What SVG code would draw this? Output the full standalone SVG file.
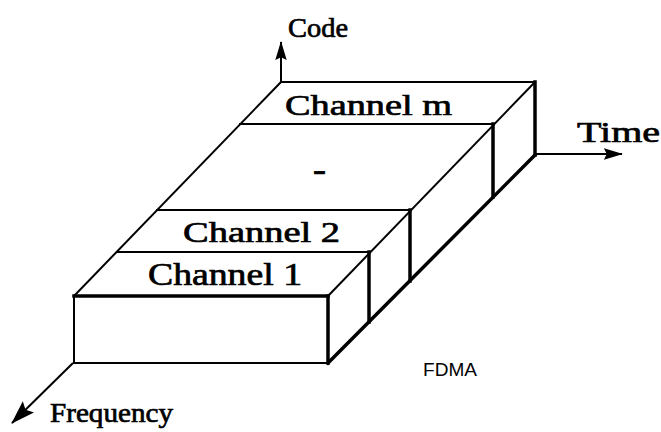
<svg xmlns="http://www.w3.org/2000/svg" width="661" height="432" viewBox="0 0 661 432">
  <style>
    .serif { font-family: "Liberation Serif", "Times New Roman", serif; fill: #000; stroke: #000; stroke-width: 0.7; }
    .sans { font-family: "Liberation Sans", Arial, sans-serif; fill: #000; }
    .thin { stroke: #000; stroke-width: 2; fill: none; stroke-linecap: square; }
    .thick { stroke: #000; stroke-width: 3.5; fill: none; stroke-linecap: square; }
    .axis { stroke: #000; stroke-width: 2; fill: none; }
  </style>
  <defs>
    <marker id="arrow" viewBox="0 0 20 12" refX="19" refY="6" markerWidth="19" markerHeight="12" markerUnits="userSpaceOnUse" orient="auto">
      <path d="M0,0 L20,6 L0,12 L3,6 Z" fill="#000"/>
    </marker>
    <marker id="arrow-big" viewBox="0 0 24 16" refX="23" refY="8" markerWidth="24" markerHeight="16" markerUnits="userSpaceOnUse" orient="auto">
      <path d="M0,0 L24,8 L0,16 L4,8 Z" fill="#000"/>
    </marker>
  </defs>
  <rect width="661" height="432" fill="#fff"/>

  <g id="connectors">
    <line class="axis" x1="281" y1="82" x2="281" y2="42" marker-end="url(#arrow)"/>
    <line class="axis" x1="535" y1="154" x2="622" y2="154" marker-end="url(#arrow)"/>
    <line class="axis" x1="73" y1="363" x2="12" y2="423" stroke-width="3.5" marker-end="url(#arrow-big)"/>
  </g>

  <g id="box">
    <!-- top face -->
    <line class="thin" x1="281" y1="82" x2="535" y2="82" stroke-width="2.5"/>
    <line class="thin" x1="281" y1="82" x2="74" y2="296"/>
    <line class="thin" x1="535" y1="82" x2="328" y2="296" stroke-width="1.6"/>
    <line class="thin" x1="240" y1="124" x2="493" y2="124" stroke-width="2.4"/>
    <line class="thin" x1="157" y1="210" x2="410" y2="210" stroke-width="2.4"/>
    <line class="thin" x1="117" y1="252" x2="369" y2="252" stroke-width="2.4"/>
    <!-- front face -->
    <line class="thick" x1="74" y1="296" x2="328" y2="296"/>
    <line class="thin" x1="74" y1="296" x2="74" y2="363" stroke-width="2.5"/>
    <line class="thin" x1="74" y1="363" x2="328" y2="363" stroke-width="2.5"/>
    <line class="thick" x1="328" y1="296" x2="328" y2="363" stroke-width="3"/>
    <!-- side face -->
    <line class="thick" x1="328" y1="363" x2="535" y2="155"/>
    <line class="thick" x1="535" y1="82" x2="535" y2="155"/>
    <line class="thick" x1="493" y1="124" x2="493" y2="197"/>
    <line class="thick" x1="410" y1="210" x2="410" y2="281"/>
    <line class="thick" x1="369" y1="252" x2="369" y2="322"/>
  </g>

  <g id="channel-m"><text class="serif" x="285" y="115" font-size="30" textLength="167" lengthAdjust="spacingAndGlyphs">Channel m</text></g>
  <g id="channel-dots"><text class="serif" x="313" y="180" font-size="32" font-weight="bold" textLength="13" lengthAdjust="spacingAndGlyphs">-</text></g>
  <g id="channel-2"><text class="serif" x="183" y="242" font-size="30" textLength="157" lengthAdjust="spacingAndGlyphs">Channel 2</text></g>
  <g id="channel-1"><text class="serif" x="148" y="285" font-size="31" textLength="154" lengthAdjust="spacingAndGlyphs">Channel 1</text></g>

  <g id="label-code"><text class="serif" x="288" y="37" font-size="28" textLength="60" lengthAdjust="spacingAndGlyphs">Code</text></g>
  <g id="label-time"><text class="serif" x="577" y="142" font-size="30" textLength="83" lengthAdjust="spacingAndGlyphs">Time</text></g>
  <g id="label-frequency"><text class="serif" x="50" y="422" font-size="28" textLength="123" lengthAdjust="spacingAndGlyphs">Frequency</text></g>
  <g id="label-fdma"><text class="sans" x="423" y="376" font-size="18" textLength="54" lengthAdjust="spacingAndGlyphs">FDMA</text></g>
</svg>
